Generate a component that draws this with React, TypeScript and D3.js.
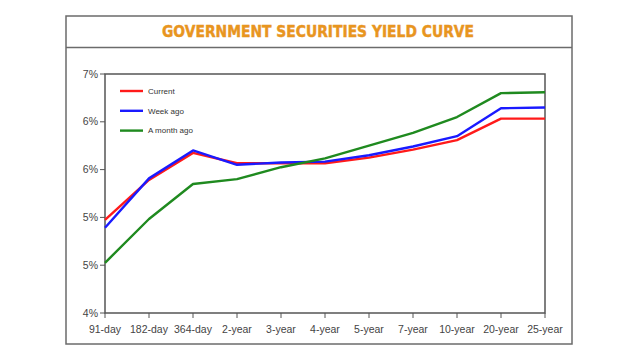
import React from "react";
import * as d3 from "d3";

const categories = ["91-day", "182-day", "364-day", "2-year", "3-year", "4-year", "5-year", "7-year", "10-year", "20-year", "25-year"];
const current = [5.17, 5.67, 6.01, 5.88, 5.88, 5.88, 5.95, 6.05, 6.17, 6.44, 6.44];
const weekAgo = [5.07, 5.69, 6.04, 5.86, 5.89, 5.9, 5.98, 6.09, 6.22, 6.57, 6.58];
const monthAgo = [4.63, 5.18, 5.62, 5.68, 5.83, 5.94, 6.1, 6.26, 6.46, 6.76, 6.77];
const yTicks = [4, 4.6, 5.2, 5.8, 6.4, 7];
const seriesNames = ["Current", "Week ago", "A month ago"];
const title = "GOVERNMENT SECURITIES YIELD CURVE";

const colors = ["#ff1a1a", "#1a1aff", "#1f8a1f"];

export default function App() {
  const W = 640, H = 360;
  const left = 105, right = 545, top = 74, bottom = 313;
  const x = d3.scalePoint<string>().domain(categories).range([left, right]);
  const y = d3.scaleLinear().domain([4, 7]).range([bottom, top]);
  const line = d3.line<number>().x((_, i) => x(categories[i]) as number).y((d) => y(d));
  const series = [current, weekAgo, monthAgo];
  const fmt = (v: number) => d3.format(".0f")(v) + "%";
  const font = "'Liberation Sans', Arial, sans-serif";
  return (
    <svg width={W} height={H} style={{ position: "absolute", left: 0, top: 0, background: "#fff" }}>
      <rect x={0} y={0} width={W} height={H} fill="#fff" />
      <rect x={66} y={16} width={506} height={328} fill="none" stroke="#6b6b6b" strokeWidth={1.5} />
      <line x1={66} x2={572} y1={47.5} y2={47.5} stroke="#6b6b6b" strokeWidth={1.5} />
      <text x={318} y={37} textAnchor="middle" fontFamily="'DejaVu Sans Condensed', 'DejaVu Sans', sans-serif" fontWeight="bold" fontSize={15} fill="#e8951f" stroke="#e8951f" strokeWidth={0.4} textLength={312} lengthAdjust="spacingAndGlyphs">{title}</text>
      <rect x={left} y={top} width={right - left} height={bottom - top} fill="none" stroke="#555" strokeWidth={1.5} />
      {yTicks.map((t) => (
        <g key={t}>
          <line x1={left - 5} x2={left} y1={y(t)} y2={y(t)} stroke="#555" strokeWidth={1} />
          <text x={left - 7} y={y(t)} dy="0.35em" textAnchor="end" fontFamily={font} fontSize={10.5} fill="#444">{fmt(t)}</text>
        </g>
      ))}
      {categories.map((c) => (
        <g key={c}>
          <line x1={x(c)} x2={x(c)} y1={bottom} y2={bottom + 5} stroke="#555" strokeWidth={1} />
          <text x={x(c)} y={333} textAnchor="middle" fontFamily={font} fontSize={10.5} fill="#444">{c}</text>
        </g>
      ))}
      {series.map((s, i) => (
        <path key={i} d={line(s) || ""} fill="none" stroke={colors[i]} strokeWidth={2.4} strokeLinejoin="round" />
      ))}
      {seriesNames.map((n, i) => (
        <g key={n}>
          <line x1={120} x2={143} y1={91 + i * 19.8} y2={91 + i * 19.8} stroke={colors[i]} strokeWidth={2.4} />
          <text x={148} y={91 + i * 19.8} dy="0.35em" fontFamily={font} fontSize={8} fill="#333">{n}</text>
        </g>
      ))}
    </svg>
  );
}
